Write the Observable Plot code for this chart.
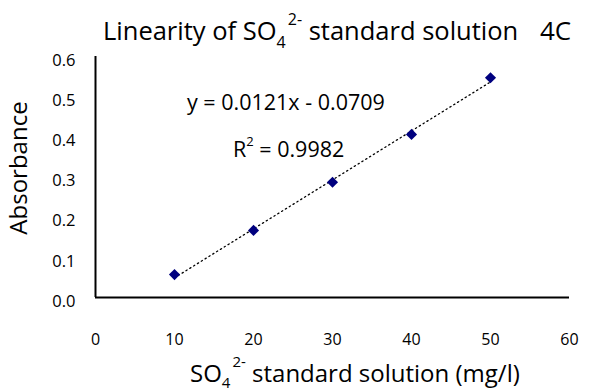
<!DOCTYPE html>
<html>
<head>
<meta charset="utf-8">
<script src="https://cdn.jsdelivr.net/npm/d3@7"></script>
<script src="https://cdn.jsdelivr.net/npm/@observablehq/plot@0.6"></script>
<style>
  html, body { margin: 0; padding: 0; background: #fff; }
  #chart svg { display: block; }
</style>
</head>
<body>
<div id="chart"></div>
<script>
// Data
const concentrations = [10, 20, 30, 40, 50];          // SO4 2- mg/l
const absorbances    = [0.057, 0.167, 0.287, 0.406, 0.547];
const xTicks = [0, 10, 20, 30, 40, 50, 60];
const yTicks = [0, 0.1, 0.2, 0.3, 0.4, 0.5, 0.6];
const equationText = "y = 0.0121x - 0.0709";
const r2Value = "0.9982";

const data = concentrations.map((c, i) => ({x: c, y: absorbances[i]}));

const FONT = "'Open Sans', sans-serif";

const svg = Plot.plot({
  width: 591,
  height: 392,
  marginLeft: 95,
  marginRight: 22,
  marginTop: 56,
  marginBottom: 95,
  style: {fontFamily: FONT, fontSize: "16px", color: "#000", background: "#fff"},
  x: {domain: [0, 60]},
  y: {domain: [0, 0.6]},
  marks: [
    Plot.axisX({ticks: xTicks, tickSize: 0, tickPadding: 36, label: null, fontSize: 16}),
    Plot.axisY({ticks: yTicks, tickSize: 0, tickPadding: 20, tickFormat: d3.format(".1f"), label: null, dy: 4, fontSize: 16.5}),
    Plot.ruleY([0], {stroke: "#000", strokeWidth: 2}),
    Plot.ruleX([0], {y1: 0, y2: 0.6, stroke: "#000", strokeWidth: 2}),
    Plot.linearRegressionY(data, {x: "x", y: "y", ci: 0, stroke: "#000", strokeWidth: 1.3, strokeDasharray: "1.3,3.2"}),
    Plot.dot(data, {x: "x", y: "y", symbol: "diamond2", r: 5, fill: "#00007f", stroke: "none"})
  ]
});

const s = d3.select(svg);

function addText(x, y, size) {
  return s.append("text")
    .attr("x", x).attr("y", y)
    .attr("text-anchor", "start")
    .attr("font-family", FONT).attr("font-size", size).attr("fill", "#000");
}

// Title
const title = addText(103, 40, 25.5);
title.append("tspan").text("Linearity of SO");
title.append("tspan").attr("dy", 8).attr("font-size", 16).text("4");
title.append("tspan").attr("dy", -23).attr("dx", 2).attr("font-size", 16).text("2-");
title.append("tspan").attr("dy", 15).text(" standard solution");
addText(540, 40, 26).attr("font-weight", 500).text("4C");

// Y axis label
s.append("text")
  .attr("transform", "translate(27,168) rotate(-90)")
  .attr("text-anchor", "middle")
  .attr("font-family", FONT).attr("font-size", 24).attr("fill", "#000")
  .text("Absorbance");

// X axis label
const xl = addText(190, 382, 24);
xl.append("tspan").text("SO");
xl.append("tspan").attr("dy", 6).attr("font-size", 15).text("4");
xl.append("tspan").attr("dy", -21).attr("dx", 2).attr("font-size", 15).text("2-");
xl.append("tspan").attr("dy", 15).text(" standard solution (mg/l)");

// Trendline equation and R²
addText(187, 110, 21.5).text(equationText);
const r2 = addText(233, 157, 21.5);
r2.append("tspan").text("R");
r2.append("tspan").attr("dy", -11).attr("font-size", 13).text("2");
r2.append("tspan").attr("dy", 11).text(" = " + r2Value);

document.getElementById("chart").appendChild(svg);
</script>
</body>
</html>
